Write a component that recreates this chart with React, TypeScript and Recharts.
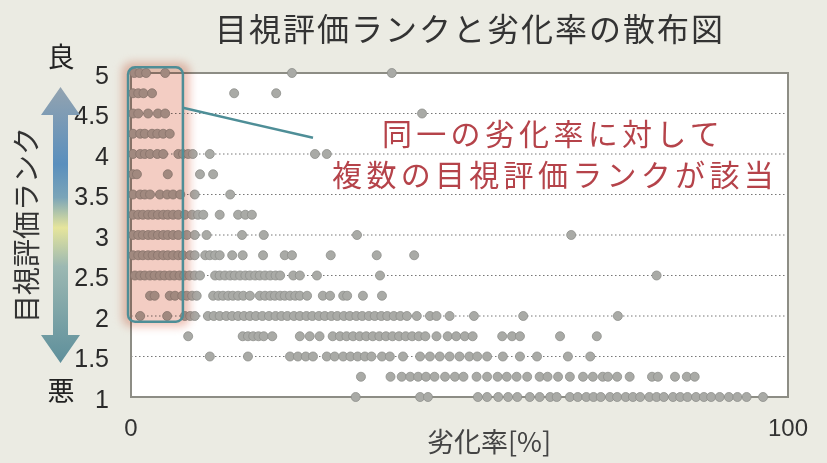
import { ScatterChart, Scatter, XAxis, YAxis, ZAxis, CartesianGrid, ReferenceArea, ReferenceLine } from 'recharts';

// degradation rate [%] of each sample, grouped by visual rank
const rank5 = [0.5, 1.3, 2.3, 5.2, 24.5, 39.7];
const rank475 = [0.3, 1.1, 1.9, 3.2, 15.7, 22.1];
const rank45 = [0.3, 1.1, 2.6, 4.1, 5.2, 44.3];
const rank425 = [0.3, 1.4, 2.1, 3.2, 4.0, 4.9, 5.9];
const rank4 = [0.3, 1.4, 2.1, 2.9, 4.0, 4.9, 7.2, 7.9, 8.7, 9.4, 12.0, 28.0, 29.8];
const rank375 = [0.3, 0.9, 5.6, 10.5, 12.5];
const rank35 = [0.3, 1.4, 2.1, 2.9, 4.4, 5.5, 6.4, 7.5, 9.7, 15.1];
const rank325 = [0.3, 1.1, 1.8, 2.6, 3.3, 4.1, 4.9, 5.6, 6.4, 7.2, 8.2, 9.3, 10.2, 11.0, 13.5, 16.3, 17.4, 18.4];
const rank3 = [0.3, 1.1, 1.8, 2.6, 3.3, 4.1, 4.9, 5.6, 6.4, 7.2, 8.5, 9.7, 11.5, 16.9, 20.2, 34.4, 67.0];
const rank275 = [0.3, 1.1, 1.8, 2.6, 3.3, 4.1, 4.9, 5.6, 6.4, 7.2, 7.9, 9.0, 9.7, 11.3, 12.0, 12.8, 13.5, 15.4, 17.0, 20.1, 23.4, 24.5, 30.4, 37.4, 43.1];
const rank25 = [0.6, 1.4, 2.1, 2.9, 3.6, 4.4, 5.1, 5.9, 6.6, 7.4, 8.1, 8.9, 9.7, 10.5, 12.8, 13.5, 14.3, 15.1, 15.8, 16.6, 17.4, 18.1, 18.9, 19.6, 20.4, 21.2, 22.0, 22.7, 24.7, 25.7, 28.3, 37.9, 80.0];
const rank225 = [2.9, 3.6, 5.9, 6.7, 7.8, 8.5, 9.3, 10.0, 12.5, 13.3, 14.0, 14.8, 15.5, 16.3, 17.1, 18.1, 19.6, 20.4, 21.2, 21.9, 22.7, 23.4, 24.2, 25.0, 25.7, 26.8, 29.2, 30.3, 32.3, 32.9, 35.3, 38.2];
const rank2 = [1.4, 5.5, 8.2, 9.0, 9.7, 11.7, 12.6, 13.5, 14.5, 15.4, 16.3, 17.2, 18.1, 19.0, 20.0, 21.0, 22.0, 22.9, 23.8, 24.8, 25.7, 26.7, 27.6, 28.6, 29.5, 30.5, 31.4, 32.4, 33.3, 34.3, 35.2, 36.2, 37.1, 38.1, 39.0, 40.0, 41.0, 42.0, 43.5, 45.5, 46.5, 48.5, 52.2, 59.7, 74.1];
const rank175 = [8.7, 17.0, 17.8, 18.6, 19.4, 20.2, 21.5, 25.7, 27.2, 28.7, 30.7, 31.8, 32.8, 33.8, 34.8, 35.8, 36.8, 37.8, 38.8, 39.8, 40.8, 41.8, 42.8, 43.8, 44.8, 46.5, 48.2, 49.5, 50.8, 52.0, 56.5, 58.0, 59.2, 65.3, 70.9];
const rank15 = [12.0, 17.8, 24.2, 25.4, 26.6, 27.7, 29.8, 31.0, 32.3, 33.4, 34.5, 35.6, 36.6, 38.2, 39.4, 41.4, 44.0, 45.5, 47.0, 48.5, 50.0, 51.5, 52.7, 54.2, 56.6, 59.2, 61.8, 66.5, 69.9];
const rank125 = [35.0, 39.5, 41.2, 42.5, 43.7, 44.9, 46.2, 47.8, 49.3, 50.6, 52.6, 54.2, 55.8, 57.2, 58.7, 60.3, 62.2, 63.4, 65.0, 66.8, 68.8, 70.3, 71.8, 72.6, 74.0, 75.9, 79.3, 80.2, 82.8, 84.6, 85.8];
const rank1 = [34.2, 44.0, 45.2, 52.8, 54.2, 55.9, 57.4, 58.8, 60.7, 62.2, 63.8, 64.8, 66.8, 68.0, 69.3, 70.4, 71.5, 72.9, 74.0, 75.3, 76.4, 77.5, 78.9, 80.0, 81.1, 82.5, 83.6, 84.7, 86.0, 87.2, 88.3, 89.6, 91.0, 92.3, 93.7, 96.2];

const rows: [number, number[]][] = [
  [5, rank5], [4.75, rank475], [4.5, rank45], [4.25, rank425], [4, rank4],
  [3.75, rank375], [3.5, rank35], [3.25, rank325], [3, rank3], [2.75, rank275],
  [2.5, rank25], [2.25, rank225], [2, rank2], [1.75, rank175], [1.5, rank15],
  [1.25, rank125], [1, rank1],
];

const yTicks = [1, 1.5, 2, 2.5, 3, 3.5, 4, 4.5, 5];
const xTicks = [0, 100];

const points = rows.flatMap(([rank, xs]) => xs.map((x) => ({ x, y: rank })));

const jp = '"Noto Sans CJK JP", "Noto Sans", sans-serif';
const num = '"Liberation Sans", Arial, sans-serif';

// highlighted region: soft pink glow multiplied over the dots, teal rounded frame
const HighlightBox = (props: any) => {
  const { x, y, width, height } = props;
  return (
    <g>
      <g style={{ mixBlendMode: 'multiply' }}>
        <rect
          x={x - 6}
          y={y - 5}
          width={width + 13}
          height={height + 10}
          rx={9}
          fill="#efc3b8"
          style={{ filter: 'blur(4px)' }}
        />
        <rect x={x} y={y} width={width} height={height} rx={7} fill="#f3cdc3" />
      </g>
      <rect x={x} y={y} width={width} height={height} rx={7} fill="none" stroke="#4e8e97" strokeWidth={2.5} />
    </g>
  );
};

export default function App() {
  return (
    <div style={{ position: 'absolute', left: 0, top: 0, width: 827, height: 463, background: '#ebebe3' }}>
      <ScatterChart width={827} height={463} margin={{ top: 73, right: 39, bottom: 26, left: 71 }}>
        <CartesianGrid vertical={false} strokeDasharray="1.5 2.5" stroke="#777" fill="#fff" />
        <XAxis
          type="number"
          dataKey="x"
          domain={[0, 100]}
          ticks={xTicks}
          height={40}
          axisLine={false}
          tickLine={false}
          tickSize={0}
          tickMargin={22}
          tick={{ fontFamily: num, fontSize: 24, fill: '#333' }}
        />
        <YAxis
          type="number"
          dataKey="y"
          domain={[1, 5]}
          ticks={yTicks}
          width={60}
          axisLine={false}
          tickLine={false}
          tickSize={0}
          tickMargin={22}
          tick={{ fontFamily: num, fontSize: 25, fill: '#2a2a2a', dy: 2 }}
        />
        <ZAxis range={[52, 52]} />
        <ReferenceArea x1={0} x2={100} y1={1} y2={5} fill="none" stroke="#8d8d85" strokeWidth={2} ifOverflow="visible" />
        <Scatter data={points} fill="#a9aaa6" stroke="#8e8f8b" strokeWidth={0.8} isAnimationActive={false} />
        <ReferenceArea x1={-0.45} x2={7.9} y1={1.93} y2={5.07} ifOverflow="visible" shape={HighlightBox} zIndex={700} />
        <ReferenceLine
          segment={[{ x: 7.9, y: 4.57 }, { x: 27.7, y: 4.2 }]}
          stroke="#4e8e97"
          strokeWidth={2.5}
          ifOverflow="visible"
          zIndex={700}
        />
      </ScatterChart>
      <svg width={827} height={463} style={{ position: 'absolute', left: 0, top: 0, pointerEvents: 'none' }}>
        <defs>
          <linearGradient id="rankGrad" x1="0" y1="0" x2="0" y2="1">
            <stop offset="0%" stopColor="#93a3b0" />
            <stop offset="28%" stopColor="#5a8fbd" />
            <stop offset="40%" stopColor="#7aa4b8" />
            <stop offset="51%" stopColor="#e6e59c" />
            <stop offset="65%" stopColor="#9cb8b2" />
            <stop offset="100%" stopColor="#5e8f9b" />
          </linearGradient>
        </defs>
        <text x={470} y={27} textAnchor="middle" dominantBaseline="central" fontFamily={jp} fontSize={32} letterSpacing={2} fill="#333">
          目視評価ランクと劣化率の散布図
        </text>
        <path
          d="M60.5 87 L80 115 L68 115 L68 335 L80 335 L60.5 363 L41 335 L53 335 L53 115 L41 115 Z"
          fill="url(#rankGrad)"
        />
        <text x={61} y={55} textAnchor="middle" dominantBaseline="central" fontFamily={jp} fontSize={27} fill="#222">
          良
        </text>
        <text x={61} y={389} textAnchor="middle" dominantBaseline="central" fontFamily={jp} fontSize={27} fill="#222">
          悪
        </text>
        <text
          x={25}
          y={225}
          transform="rotate(-90 25 225)"
          textAnchor="middle"
          dominantBaseline="central"
          fontFamily={jp}
          fontSize={28}
          fill="#333"
        >
          目視評価ランク
        </text>
        <text x={489} y={440} textAnchor="middle" dominantBaseline="central" fontFamily={jp} fontSize={27} fill="#444">
          劣化率[%]
        </text>
        <text x={724} y={132} textAnchor="end" dominantBaseline="central" fontFamily={jp} fontSize={30} letterSpacing={4.3} fill="#b5434a">
          同一の劣化率に対して
        </text>
        <text x={778} y={173} textAnchor="end" dominantBaseline="central" fontFamily={jp} fontSize={30} letterSpacing={4.3} fill="#b5434a">
          複数の目視評価ランクが該当
        </text>
      </svg>
    </div>
  );
}
